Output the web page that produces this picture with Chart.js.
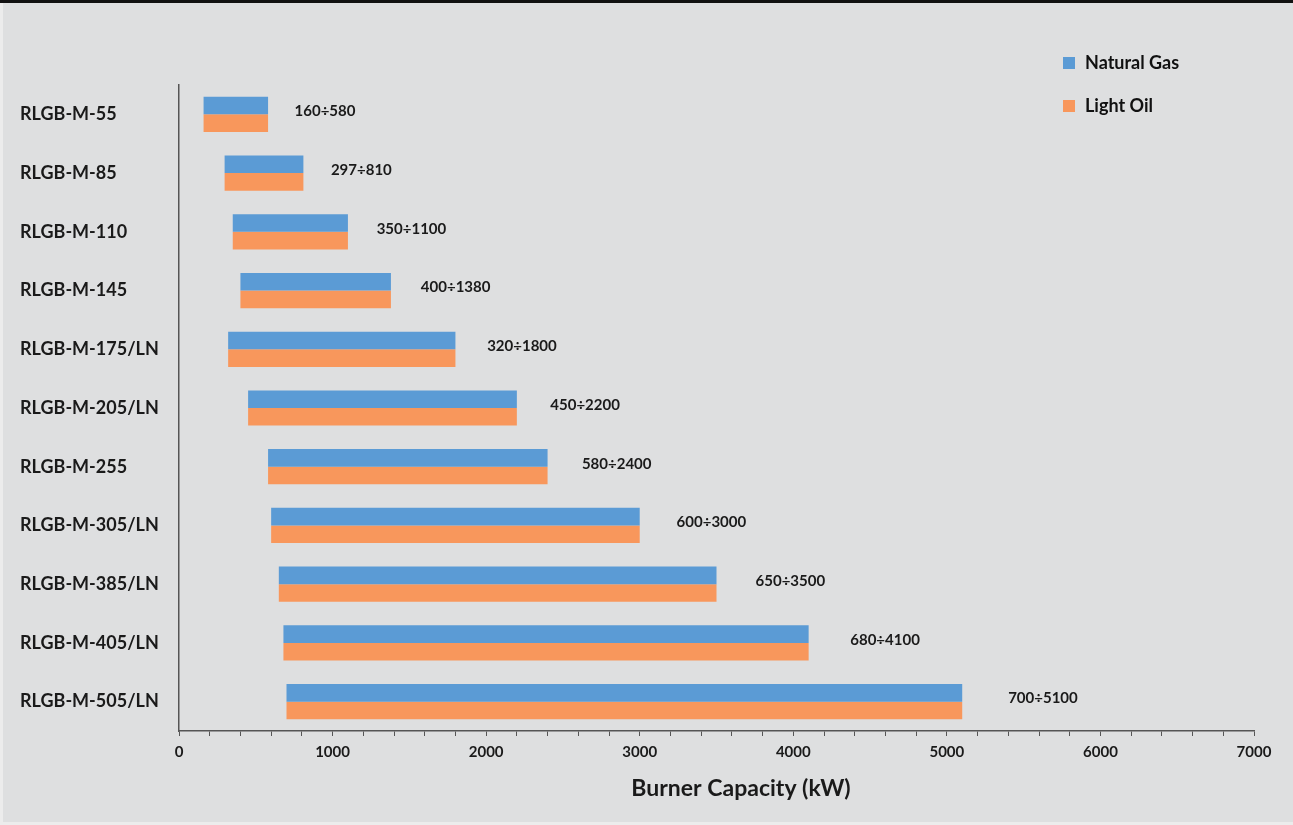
<!DOCTYPE html>
<html><head><meta charset="utf-8">
<script src="https://cdn.jsdelivr.net/npm/chart.js@4"></script>
<style>
html,body{margin:0;padding:0;background:#dedfe0;}
#wrap{position:absolute;left:0;top:0;width:1293px;height:825px;}
#topbar{position:absolute;left:0;top:0;width:1293px;height:3px;background:#111;}
#leftbar{position:absolute;left:0;top:3px;width:3px;height:822px;background:#ececec;}
#botbar{position:absolute;left:0;top:822px;width:1293px;height:3px;background:#ececec;}
</style></head>
<body>
<div id="wrap"><canvas id="c" width="1293" height="825"></canvas></div>
<div id="topbar"></div><div id="leftbar"></div><div id="botbar"></div>
<script>
const categories = ["RLGB-M-55","RLGB-M-85","RLGB-M-110","RLGB-M-145","RLGB-M-175/LN","RLGB-M-205/LN","RLGB-M-255","RLGB-M-305/LN","RLGB-M-385/LN","RLGB-M-405/LN","RLGB-M-505/LN"];
const minCapacity = [160,297,350,400,320,450,580,600,650,680,700];
const maxCapacity = [580,810,1100,1380,1800,2200,2400,3000,3500,4100,5100];
const seriesNames = ["Natural Gas","Light Oil"];
const xTicks = [0,1000,2000,3000,4000,5000,6000,7000];
const xTitle = "Burner Capacity (kW)";

const ranges = minCapacity.map((v,i)=>[v,maxCapacity[i]]);
const FONT = "Lato, 'Open Sans', sans-serif";

const labelPlugin = {
  id:'rangeLabels',
  afterDatasetsDraw(chart){
    const ctx = chart.ctx;
    const m0 = chart.getDatasetMeta(0), m1 = chart.getDatasetMeta(1);
    ctx.save();
    ctx.font = "bold 15px " + FONT;
    ctx.fillStyle = "#1a1a1a";
    ctx.textBaseline = "middle";
    ctx.textAlign = "left";
    const left = chart.scales.x.getPixelForValue(0);
    m0.data.forEach((bar,i)=>{
      const end = bar.x;
      const y = (bar.y + m1.data[i].y)/2 - 3;
      const off = 24 + (end - left) * 0.028;
      ctx.fillText(minCapacity[i] + "÷" + maxCapacity[i], end + off, y);
    });
    ctx.restore();
  },
  afterDraw(chart){
    const ctx = chart.ctx;
    ctx.save();
    ctx.font = "bold 18px " + FONT;
    ctx.textBaseline = "middle";
    ctx.textAlign = "left";
    chart.data.datasets.forEach((ds,i)=>{
      const y = 63 + i*43;
      ctx.fillStyle = ds.backgroundColor;
      ctx.fillRect(1063, y-6, 12, 12);
      ctx.fillStyle = "#111";
      ctx.fillText(ds.label, 1085, y);
    });
    ctx.font = "bold 23px " + FONT;
    ctx.textAlign = "center";
    ctx.fillStyle = "#1a1a1a";
    ctx.fillText(xTitle, 741, 789);
    ctx.restore();
  }
};

new Chart(document.getElementById('c'), {
  type:'bar',
  data:{
    labels:categories,
    datasets:[
      {label:seriesNames[0], data:ranges, backgroundColor:'#5b9bd5', borderSkipped:false},
      {label:seriesNames[1], data:ranges, backgroundColor:'#f8975c', borderSkipped:false}
    ]
  },
  options:{
    indexAxis:'y',
    responsive:false,
    animation:false,
    devicePixelRatio:1,
    categoryPercentage:0.6,
    barPercentage:1.0,
    layout:{padding:{left:20,right:39,top:85,bottom:57}},
    plugins:{legend:{display:false},tooltip:{enabled:false}},
    scales:{
      x:{
        min:0,max:7000,
        afterBuildTicks(axis){
          const t=[]; for(let v=0; v<=7000; v+=200) t.push({value:v}); axis.ticks=t;
        },
        ticks:{
          autoSkip:false, maxRotation:0, padding:7,
          color:'#1a1a1a', font:{family:FONT, size:15, weight:'bold'},
          callback:(v)=> xTicks.includes(v) ? String(v) : ''
        },
        grid:{drawOnChartArea:false, drawTicks:true, tickLength:5, color:'#555', lineWidth:1},
        border:{display:true, color:'#555', width:1.5},
        title:{display:false}
      },
      y:{
        afterFit(axis){ axis.width = 159; },
        ticks:{crossAlign:'far', color:'#1a1a1a', font:{family:FONT, size:18, weight:'bold'}, padding:0},
        grid:{drawOnChartArea:false, drawTicks:false},
        border:{display:true, color:'#555', width:1.5}
      }
    }
  },
  plugins:[labelPlugin]
});
</script>
</body></html>
